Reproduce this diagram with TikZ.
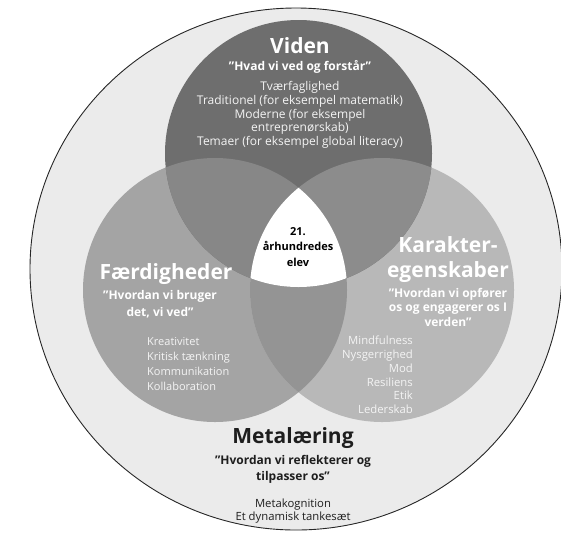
\documentclass[tikz,border=0pt]{standalone}
\usepackage{fontspec}
\setmainfont{Open Sans}
\definecolor{cOuter}{HTML}{EBEBEB}
\definecolor{cV}{HTML}{6E6E6E}
\definecolor{cF}{HTML}{A4A4A4}
\definecolor{cK}{HTML}{B8B8B8}
\definecolor{cVF}{HTML}{878787}
\definecolor{cVK}{HTML}{8C8C8C}
\definecolor{cFK}{HTML}{949494}
\definecolor{cDark}{HTML}{1E1E1E}
\definecolor{cLight}{HTML}{F4F4F4}
\begin{document}
\begin{tikzpicture}[x=1pt,y=-1pt,
  title/.style={font=\bfseries\fontsize{21}{25}\selectfont, align=center, inner sep=0pt},
  quote/.style={font=\bfseries\fontsize{12}{17}\selectfont, align=center, inner sep=0pt},
  items/.style={font=\fontsize{11}{15}\selectfont, inner sep=0pt},
  center/.style={font=\bfseries\fontsize{11}{15.5}\selectfont, align=center, inner sep=0pt, text=black}
]
\useasboundingbox (0,0) rectangle (561,539);
% outer circle
\path[fill=cOuter, draw=black!85, line width=0.9pt] (296,269) ellipse [x radius=266, y radius=261];
% base circles
\fill[cF] (215,290) circle [radius=132];
\fill[cK] (382,290) circle [radius=132];
\fill[cV] (298.5,153.5) circle [radius=133.5];
% pairwise overlaps
\begin{scope}
  \clip (215,290) circle [radius=132];
  \fill[cFK] (382,290) circle [radius=132];
\end{scope}
\begin{scope}
  \clip (298.5,153.5) circle [radius=133.5];
  \fill[cVF] (215,290) circle [radius=132];
  \fill[cVK] (382,290) circle [radius=132];
\end{scope}
% triple overlap
\begin{scope}
  \clip (215,290) circle [radius=132];
  \clip (382,290) circle [radius=132];
  \fill[white] (298.5,153.5) circle [radius=133.5];
\end{scope}

% Viden
\node[title, text=white] (vt) at (300,46) {Viden};
\node[quote, text=white] (vq) at (300,67) {”Hvad vi ved og forstår”};
\node[items, text=cLight, align=center, font=\fontsize{12}{13.8}\selectfont] (vl) at (300,115) {Tværfaglighed\\Traditionel (for eksempel matematik)\\Moderne (for eksempel\\entreprenørskab)\\Temaer (for eksempel global literacy)};

% center
\node[center] (ct) at (298,247) {21.\\århundredes\\elev};

% Færdigheder
\node[title, text=white] (ft) at (166,274) {Færdigheder};
\node[quote, text=white] (fq) at (160,304) {”Hvordan vi bruger\\det, vi ved”};
\node[items, text=cLight, align=left, anchor=west] (fl) at (147,364) {Kreativitet\\Kritisk tænkning\\Kommunikation\\Kollaboration};

% Karakteregenskaber
\node[title, text=white] (kt) at (448,260) {Karakter-\\egenskaber};
\node[quote, text=white, font=\bfseries\fontsize{12}{14.5}\selectfont] (kq) at (448,307) {”Hvordan vi opfører\\os og engagerer os I\\verden”};
\node[items, text=cLight, align=right, anchor=east, font=\fontsize{11.3}{13.8}\selectfont] (kl) at (413,375) {Mindfulness\\Nysgerrighed\\Mod\\Resiliens\\Etik\\Lederskab};

% Metalæring
\node[title, text=cDark] (mt) at (293,438) {Metalæring};
\node[quote, text=cDark, font=\bfseries\fontsize{12}{16}\selectfont] (mq) at (293,469) {”Hvordan vi reflekterer og\\tilpasser os”};
\node[items, text=cDark, align=center, font=\fontsize{11.3}{13.5}\selectfont] (ml) at (293,511) {Metakognition\\Et dynamisk tankesæt};
\end{tikzpicture}
\end{document}
